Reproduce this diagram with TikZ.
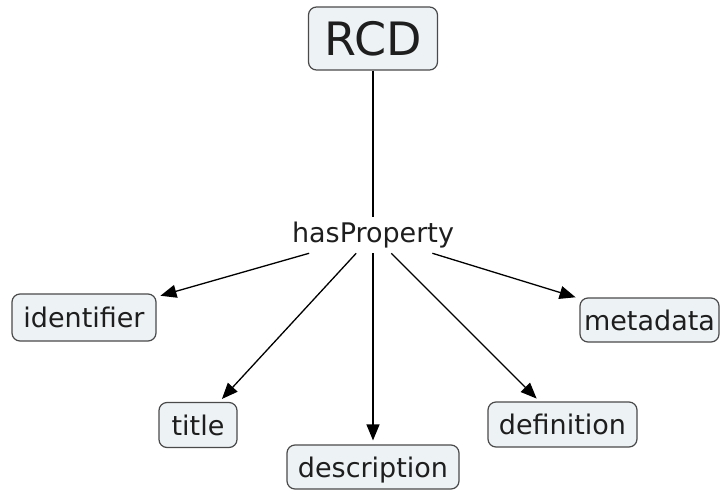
\documentclass[tikz,border=0pt]{standalone}
\usepackage{fontspec}
\setmainfont{DejaVu Sans}
\usetikzlibrary{arrows.meta}
\definecolor{boxfill}{HTML}{EDF2F4}
\definecolor{boxline}{HTML}{4A4A4A}
\definecolor{txt}{HTML}{1E1E1E}
\begin{document}
\begin{tikzpicture}[x=1pt,y=-1pt,
  concept/.style={draw=boxline, fill=boxfill, rounded corners=8pt, line width=1.2pt,
    text=txt, font=\fontsize{27}{27}\selectfont, inner sep=0pt,
    text height=20pt, text depth=0pt, minimum height=45pt},
  linkphrase/.style={text=txt, font=\fontsize{27}{27}\selectfont, inner xsep=6pt, inner ysep=5pt},
  conn/.style={line width=1.3pt, black},
  arr/.style={conn, -{Triangle[length=16pt,width=13pt]}, shorten >=4pt}
]
\useasboundingbox (0,0) rectangle (723,493);
\node[concept, font=\fontsize{46}{46}\selectfont, text height=33pt, minimum width=129pt, minimum height=63pt] (rcd) at (373,38.5) {RCD};
\node[linkphrase] (hp) at (373,235) {hasProperty};
\node[concept, minimum width=144pt, minimum height=47pt] (identifier) at (84,317.5) {identifier};
\node[concept, minimum width=139pt, minimum height=44pt] (metadata) at (649.5,320) {metadata};
\node[concept, minimum width=78pt] (title) at (198,425) {title};
\node[concept, minimum width=149pt] (definition) at (562.5,424.5) {definition};
\node[concept, minimum width=172pt, minimum height=44pt] (description) at (373,467) {description};
\draw[conn] (rcd) -- (hp);
\draw[arr] (hp) -- (identifier);
\draw[arr] (hp) -- (title);
\draw[arr] (hp) -- (description);
\draw[arr] (hp) -- (definition);
\draw[arr] (hp) -- (metadata);
\end{tikzpicture}
\end{document}
